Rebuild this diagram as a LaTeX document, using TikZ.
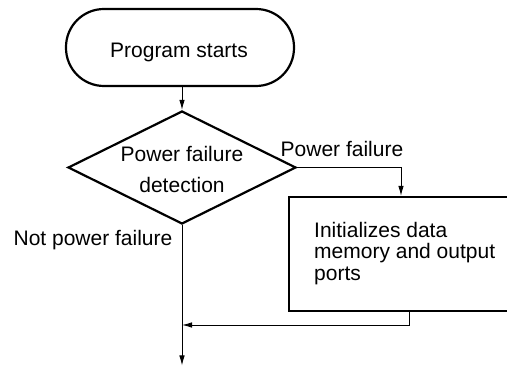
\documentclass[tikz,border=0pt]{standalone}
\usepackage{fontspec}
\setmainfont{Liberation Sans}
\usetikzlibrary{arrows.meta,shapes.geometric}
\begin{document}
\begin{tikzpicture}[x=1pt,y=-1pt,
  shapeline/.style={draw=black,line width=2.2pt},
  conn/.style={draw=black,line width=0.9pt},
  arr/.style={conn,-{Latex[length=10pt,width=5.5pt]}},
  txt/.style={inner sep=0pt,font=\fontsize{21}{25}\selectfont}]
\useasboundingbox (0,0) rectangle (507,366);
\begin{scope}
\clip (0,0) rectangle (507,366);
% terminal
\node[shapeline,rectangle,rounded corners=38pt,minimum width=228pt,minimum height=77pt,inner sep=0pt] (start) at (180,47.5) {};
\node[txt,anchor=base] (starttxt) at (179,57.5) {Program starts};
% diamond
\node[shapeline,diamond,shape aspect=2,minimum width=228pt,minimum height=113pt,inner sep=0pt] (dec) at (182,167.5) {};
\node[txt,anchor=base] (dectxt1) at (182,162) {Power failure};
\node[txt,anchor=base] (dectxt2) at (182,193) {detection};
% process box
\node[shapeline,rectangle,minimum width=224pt,minimum height=114pt,inner sep=0pt] (init) at (401,254) {};
\node[txt,anchor=base west] (inittxt1) at (314,237.5) {Initializes data};
\node[txt,anchor=base west] (inittxt2) at (314,259) {memory and output};
\node[txt,anchor=base west] (inittxt3) at (314,280.5) {ports};
% labels
\node[txt,anchor=base] (lpf) at (342,157) {Power failure};
\node[txt,anchor=base] (lnpf) at (93,245.5) {Not power failure};
% coordinates
\coordinate (join) at (182,325);
\coordinate (fin) at (182,365.5);
\coordinate (boxout) at (409,311);
% connectors
\draw[arr] (start.south -| dec.north) -- (dec.north);
\draw[arr] (dec.east) -| (init.north);
\draw[arr] (dec.south) -- (fin);
\draw[arr] (boxout) |- (join);
\end{scope}
\end{tikzpicture}
\end{document}
